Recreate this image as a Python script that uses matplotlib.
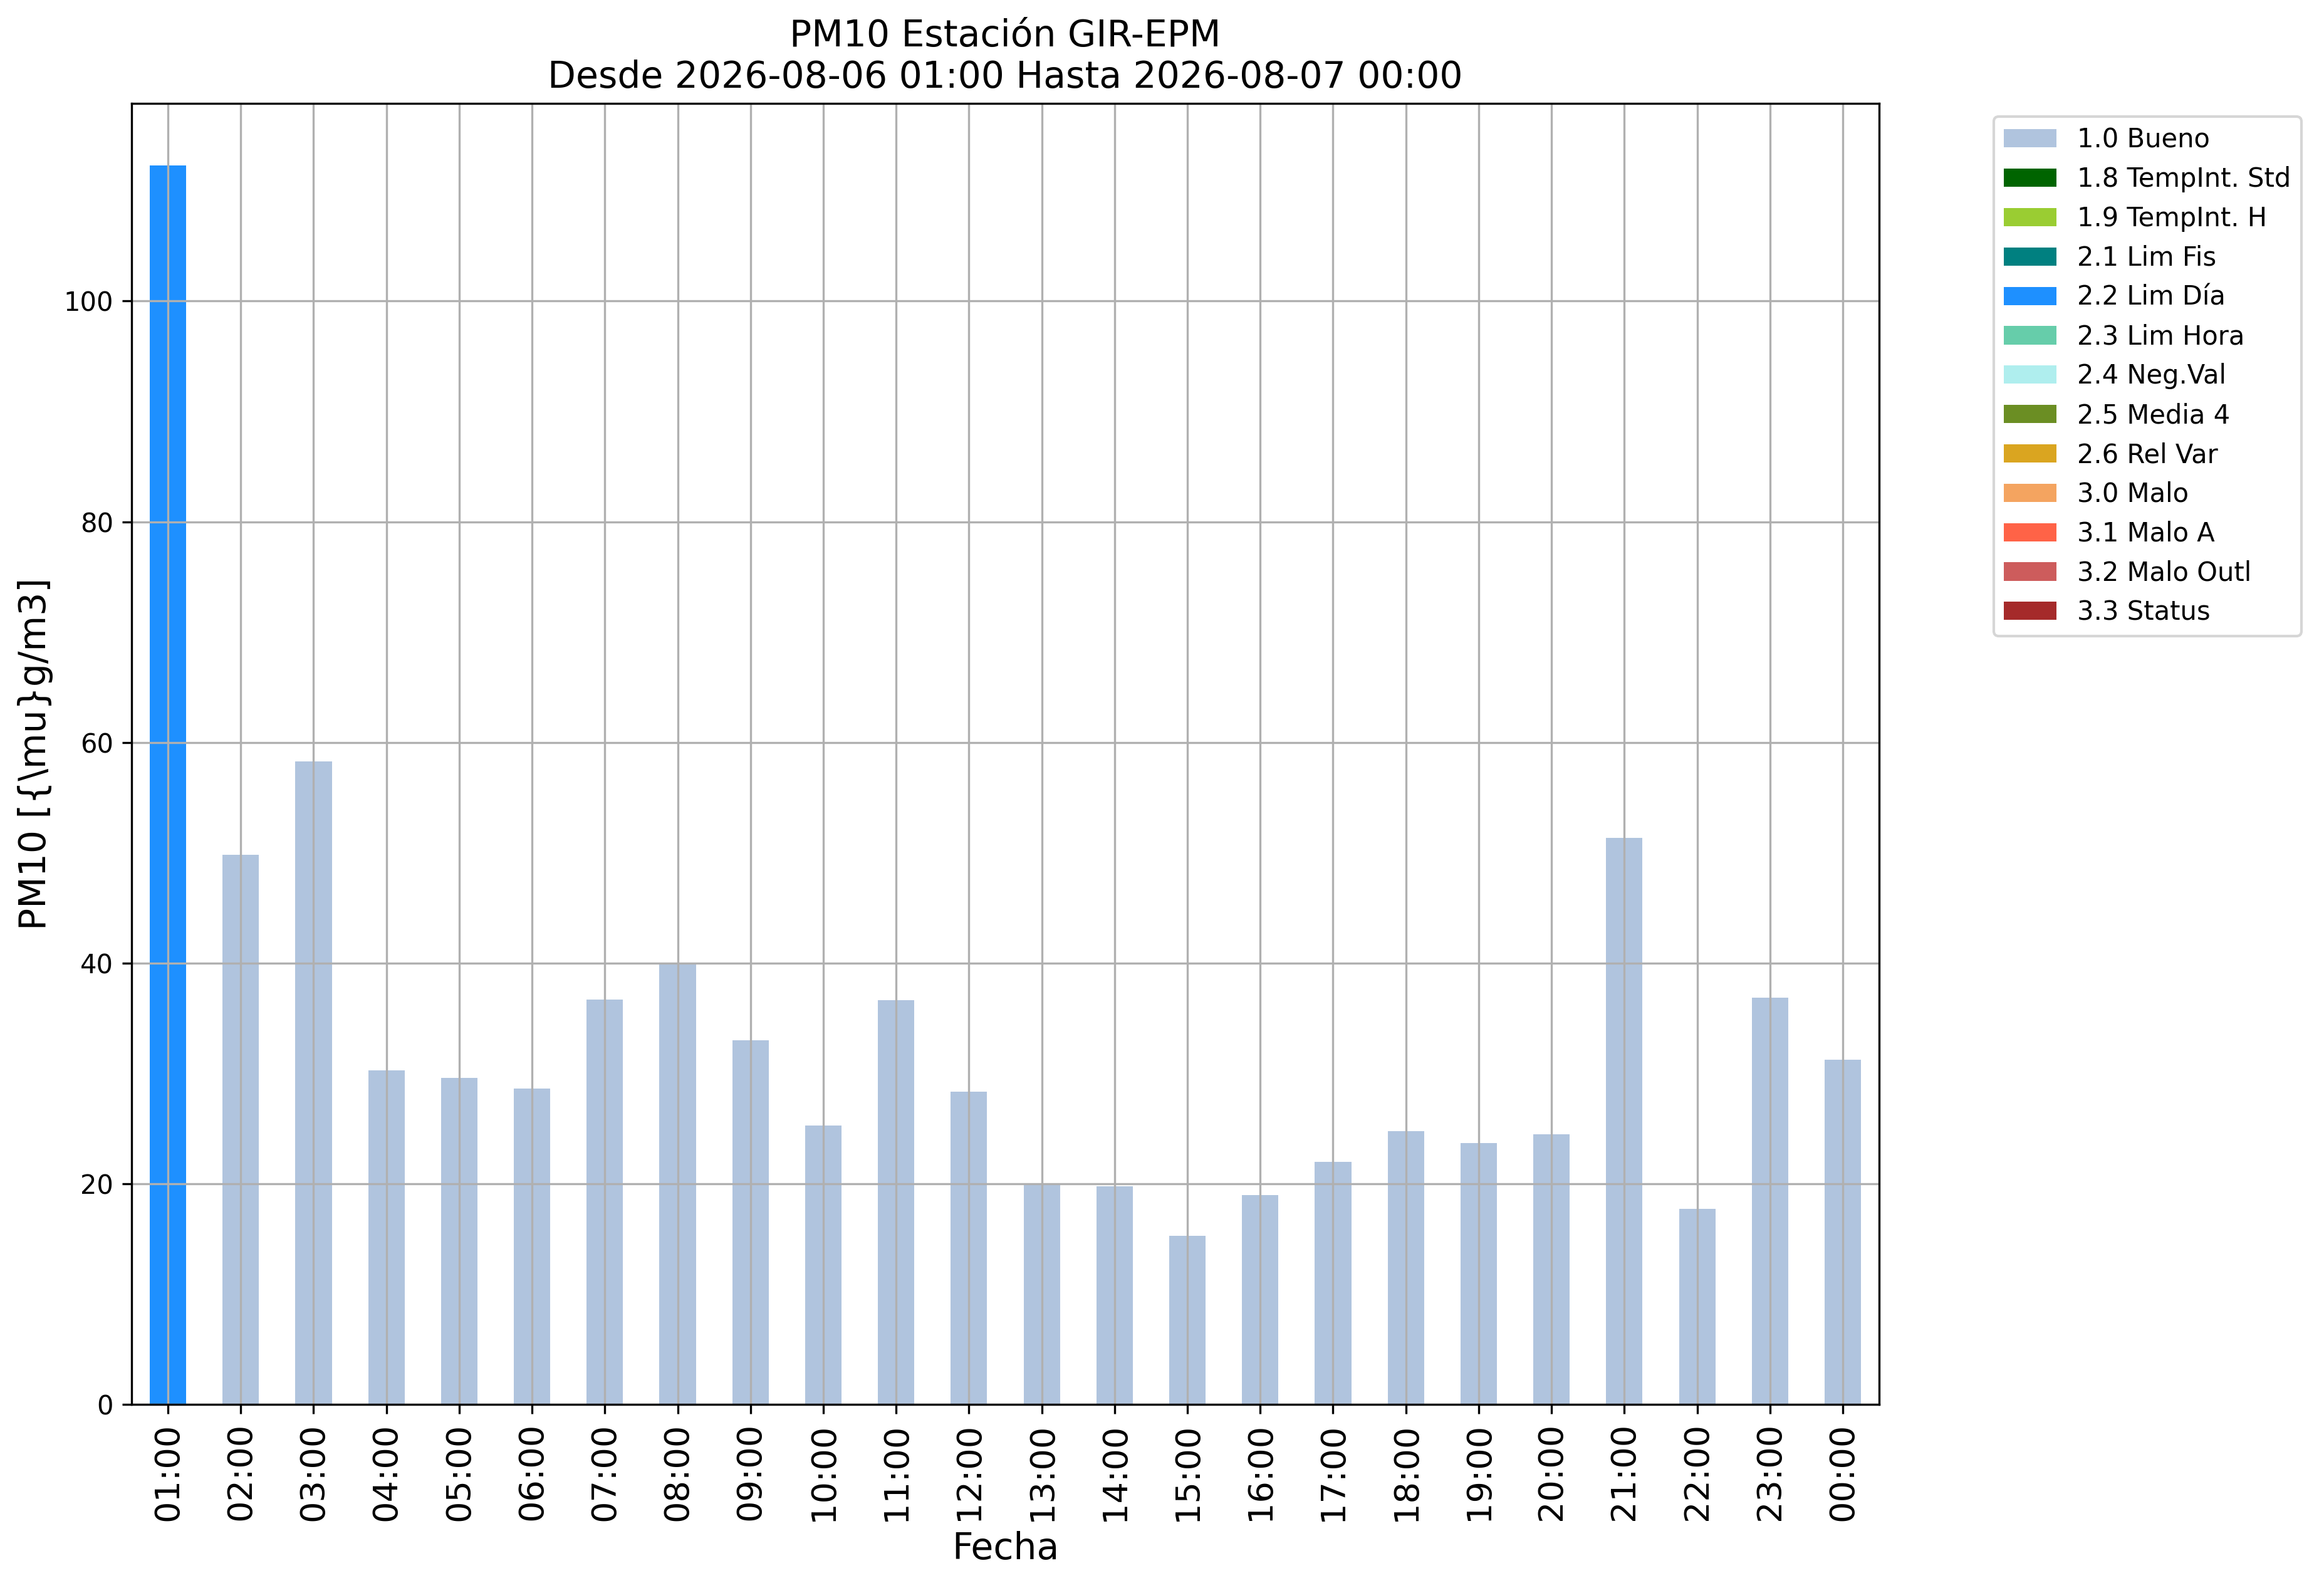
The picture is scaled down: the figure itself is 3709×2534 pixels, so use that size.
import matplotlib
matplotlib.use("Agg")
import matplotlib.pyplot as plt
import numpy as np

hours = ["01:00", "02:00", "03:00", "04:00", "05:00", "06:00", "07:00", "08:00",
         "09:00", "10:00", "11:00", "12:00", "13:00", "14:00", "15:00", "16:00",
         "17:00", "18:00", "19:00", "20:00", "21:00", "22:00", "23:00", "00:00"]
pm10 = [112.3, 49.8, 58.3, 30.25, 29.57, 28.65, 36.68, 39.88,
        32.98, 25.26, 36.62, 28.37, 19.94, 19.75, 15.26, 18.95,
        21.97, 24.74, 23.66, 24.46, 51.32, 17.75, 36.89, 31.26]
flags = ["2.2 Lim Día"] + ["1.0 Bueno"] * 23

categories = ["1.0 Bueno", "1.8 TempInt. Std", "1.9 TempInt. H", "2.1 Lim Fis",
              "2.2 Lim Día", "2.3 Lim Hora", "2.4 Neg.Val", "2.5 Media 4",
              "2.6 Rel Var", "3.0 Malo", "3.1 Malo A", "3.2 Malo Outl", "3.3 Status"]
cat_colors = ["lightsteelblue", "darkgreen", "yellowgreen", "teal",
              "dodgerblue", "mediumaquamarine", "paleturquoise", "olivedrab",
              "goldenrod", "sandybrown", "tomato", "indianred", "brown"]

fig = plt.figure(figsize=(3709 / 300, 2534 / 300), dpi=300)
ax = fig.add_axes([0.0566, 0.1156, 0.7520, 0.8193])

x = np.arange(len(hours))
bottom = np.zeros(len(hours))
for cat, col in zip(categories, cat_colors):
    vals = np.array([v if f == cat else 0.0 for v, f in zip(pm10, flags)])
    ax.bar(x, vals, width=0.5, bottom=bottom, color=col, label=cat)
    bottom += vals

ax.set_xlim(-0.5, len(hours) - 0.5)
ax.set_ylim(0, bottom.max() * 1.05)
ax.set_xticks(x)
ax.set_xticklabels(hours, rotation=90, fontsize=13)
ax.tick_params(axis="y", labelsize=10)
ax.grid(True)
ax.set_xlabel("Fecha", fontsize=14)
ax.set_ylabel("PM10 [{\\mu}g/m3]", fontsize=14)
ax.set_title("PM10 Estación GIR-EPM\nDesde 2026-08-06 01:00 Hasta 2026-08-07 00:00", fontsize=14)
ax.legend(bbox_to_anchor=(1.058, 1), loc="upper left", fontsize=10)

fig.savefig("out.png", dpi=300)
